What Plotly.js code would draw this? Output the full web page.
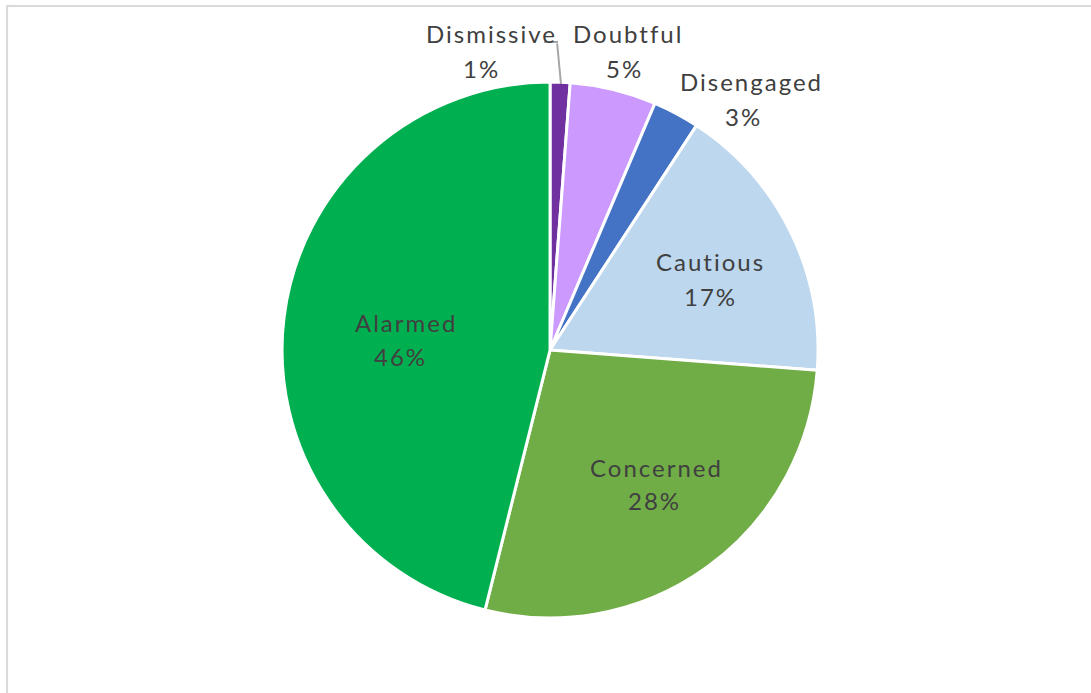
<!DOCTYPE html>
<html><head><meta charset="utf-8">
<script src="https://cdn.plot.ly/plotly-3.0.1.min.js"></script>
<style>
html,body{margin:0;padding:0;background:#fff;}
#chart{width:1091px;height:693px;}
.annotation-text{letter-spacing:2px;}
</style></head>
<body><div id="chart"></div>
<script>
const categories = ["Dismissive","Doubtful","Disengaged","Cautious","Concerned","Alarmed"];
const values = [1.2, 5.2, 2.8, 17.0, 27.7, 46.1];
const colors = ["#7030A0","#CC99FF","#4472C4","#BDD7EE","#70AD47","#00B050"];

const W = 1091, H = 693;
const px = x => x / W;
const py = y => 1 - y / H;

// label anchor positions (pixels): [name line center, percent line center]
const labelPos = [
  {x: 491, y1: 33, x2: 481, y2: 68},
  {x: 628, y1: 33, x2: 624, y2: 68},
  {x: 751, y1: 82, x2: 743, y2: 116},
  {x: 710, y1: 261, x2: 710, y2: 296},
  {x: 656, y1: 467, x2: 654, y2: 501},
  {x: 406, y1: 322, x2: 400, y2: 356}
];

const total = values.reduce((a, b) => a + b, 0);
const font = {family: "Lato, 'Open Sans', sans-serif", size: 24, color: "#404040"};

const annotations = [];
categories.forEach((c, i) => {
  const p = labelPos[i];
  annotations.push({xref: "paper", yref: "paper", x: px(p.x), y: py(p.y1), text: c,
    showarrow: false, font: font, xanchor: "center", yanchor: "middle"});
  annotations.push({xref: "paper", yref: "paper", x: px(p.x2), y: py(p.y2),
    text: Math.round(values[i] / total * 100) + "%",
    showarrow: false, font: font, xanchor: "center", yanchor: "middle"});
});
// leader line for the Dismissive label
annotations.push({xref: "paper", yref: "paper", x: px(561), y: py(84), ax: -4, ay: -42,
  text: "", showarrow: true, arrowhead: 0, arrowwidth: 2, arrowcolor: "#a6a6a6"});

const trace = {
  type: "pie",
  labels: categories,
  values: values,
  sort: false,
  direction: "clockwise",
  rotation: 0,
  marker: {colors: colors, line: {color: "#ffffff", width: 3}},
  textinfo: "none",
  domain: {x: [0.2585, 0.7498], y: [0.1082, 0.8816]},
  hoverinfo: "label+percent",
  showlegend: false
};

const layout = {
  width: W, height: H,
  margin: {l: 0, r: 0, t: 0, b: 0},
  paper_bgcolor: "#ffffff",
  showlegend: false,
  annotations: annotations,
  shapes: [
    {type: "rect", xref: "paper", yref: "paper", x0: 0.0065, x1: 1.02, y0: -0.02, y1: 0.9915,
     line: {color: "#d9d9d9", width: 2}, fillcolor: "rgba(0,0,0,0)", layer: "below"},
    {type: "line", xref: "paper", yref: "paper", x0: px(544), x1: px(558), y0: py(42), y1: py(42),
     line: {color: "#a6a6a6", width: 2}}
  ]
};

Plotly.newPlot("chart", [trace], layout, {displayModeBar: false, staticPlot: true});
</script></body></html>
